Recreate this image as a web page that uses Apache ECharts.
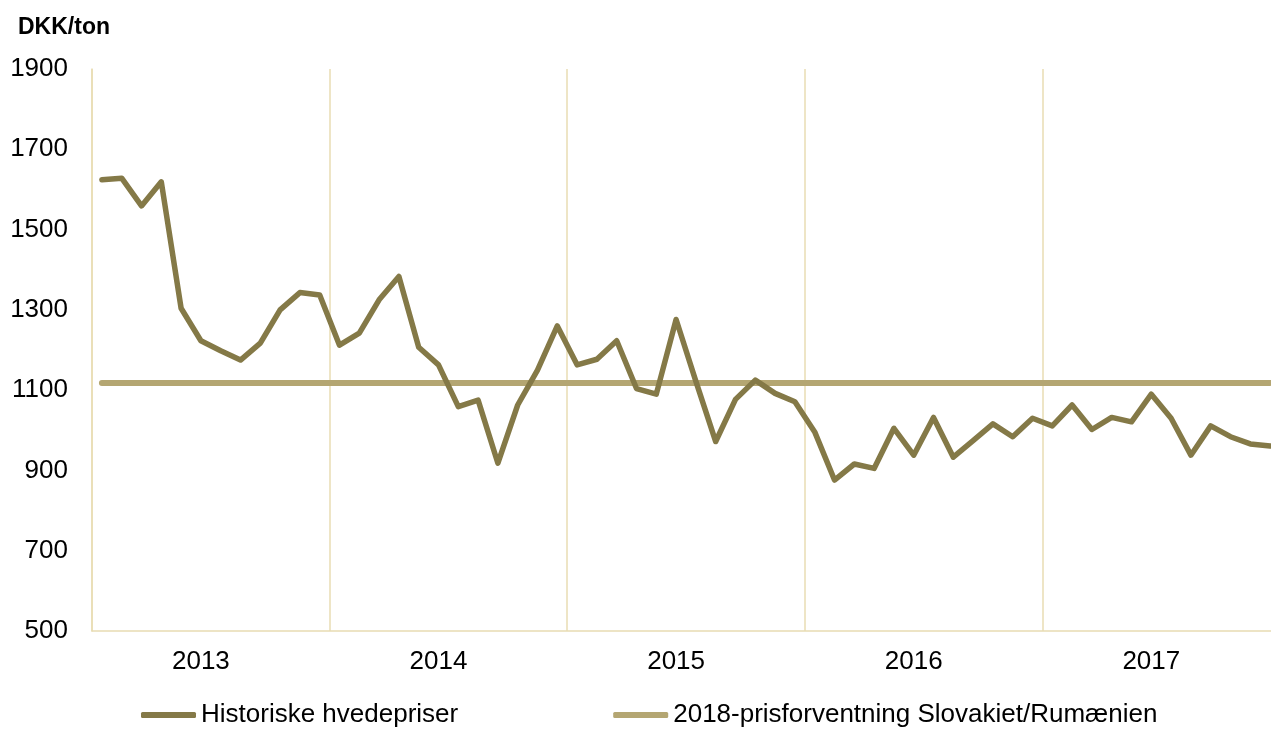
<!DOCTYPE html>
<html>
<head>
<meta charset="utf-8">
<script src="https://cdn.jsdelivr.net/npm/echarts@6/dist/echarts.min.js"></script>
<style>
html, body { margin: 0; padding: 0; background: #ffffff; }
#chart { width: 1271px; height: 729px; }
</style>
</head>
<body>
<div id="chart"></div>
<script>
var years = ['2013', '2014', '2015', '2016', '2017'];
var monthNames = ['01', '02', '03', '04', '05', '06', '07', '08', '09', '10', '11', '12'];

// monthly wheat price, DKK/ton
var hvedepriser = [
  1624, 1628, 1559, 1619, 1304, 1223, 1198, 1175, 1217, 1300, 1343, 1337,
  1212, 1242, 1325, 1383, 1207, 1163, 1059, 1075, 918, 1063, 1150, 1260,
  1163, 1177, 1223, 1104, 1090, 1276, 1122, 972, 1077, 1125, 1092, 1071,
  996, 876, 916, 905, 1005, 938, 1032, 933, 974, 1016, 984, 1030,
  1011, 1063, 1002, 1032, 1021, 1090, 1030, 938, 1011, 984, 966, 961
];
// 2018 price expectation, flat
var forventning = [
  1118, 1118, 1118, 1118, 1118, 1118, 1118, 1118, 1118, 1118, 1118, 1118,
  1118, 1118, 1118, 1118, 1118, 1118, 1118, 1118, 1118, 1118, 1118, 1118,
  1118, 1118, 1118, 1118, 1118, 1118, 1118, 1118, 1118, 1118, 1118, 1118,
  1118, 1118, 1118, 1118, 1118, 1118, 1118, 1118, 1118, 1118, 1118, 1118,
  1118, 1118, 1118, 1118, 1118, 1118, 1118, 1118, 1118, 1118, 1118, 1118
];

var maaneder = [];
years.forEach(function (y) {
  monthNames.forEach(function (m) { maaneder.push(y + '-' + m); });
});

var gridColor = '#e8dcb3';
var font = 'Arial, "Liberation Sans", sans-serif';

var chart = echarts.init(document.getElementById('chart'));
chart.setOption({
  animation: false,
  backgroundColor: '#ffffff',
  title: {
    text: 'DKK/ton',
    left: 13,
    top: 11,
    textStyle: { color: '#000000', fontSize: 23, fontWeight: 'bold', fontFamily: font }
  },
  legend: {
    left: 141,
    top: 702,
    padding: 0,
    itemGap: 155,
    itemWidth: 55,
    itemHeight: 6,
    icon: 'roundRect',
    textStyle: { color: '#000000', fontSize: 26, fontFamily: font },
    data: ['Historiske hvedepriser', '2018-prisforventning Slovakiet/Rumænien']
  },
  grid: {
    left: 92,
    top: 69,
    width: 1188,
    height: 562,
    outerBoundsMode: 'none'
  },
  xAxis: {
    type: 'category',
    data: maaneder,
    boundaryGap: true,
    axisLine: { show: true, lineStyle: { color: gridColor, width: 1.5 } },
    axisTick: { show: false, interval: function (i) { return i % 12 === 0; } },
    axisLabel: {
      interval: function (i) { return i % 12 === 5; },
      formatter: function (v) { return v.slice(0, 4); },
      color: '#000000',
      fontSize: 26,
      fontFamily: font,
      margin: 18
    },
    splitLine: {
      show: true,
      interval: function (i) { return i % 12 === 0; },
      lineStyle: { color: gridColor, width: 1.5 }
    }
  },
  yAxis: {
    type: 'value',
    min: 500,
    max: 1900,
    interval: 200,
    axisLine: { show: true, lineStyle: { color: gridColor, width: 1.5 } },
    axisTick: { show: false },
    splitLine: { show: false },
    axisLabel: {
      color: '#000000',
      fontSize: 26,
      fontFamily: font,
      margin: 24,
      formatter: function (v) { return String(v); }
    }
  },
  series: [
    {
      name: 'Historiske hvedepriser',
      type: 'line',
      data: hvedepriser,
      symbol: 'none',
      color: '#847947',
      lineStyle: { width: 5.5, color: '#847947', cap: 'round', join: 'round' },
      z: 3
    },
    {
      name: '2018-prisforventning Slovakiet/Rumænien',
      type: 'line',
      data: forventning,
      symbol: 'none',
      color: '#b4a672',
      lineStyle: { width: 6, color: '#b4a672', cap: 'round' },
      z: 2
    }
  ]
});
</script>
</body>
</html>
